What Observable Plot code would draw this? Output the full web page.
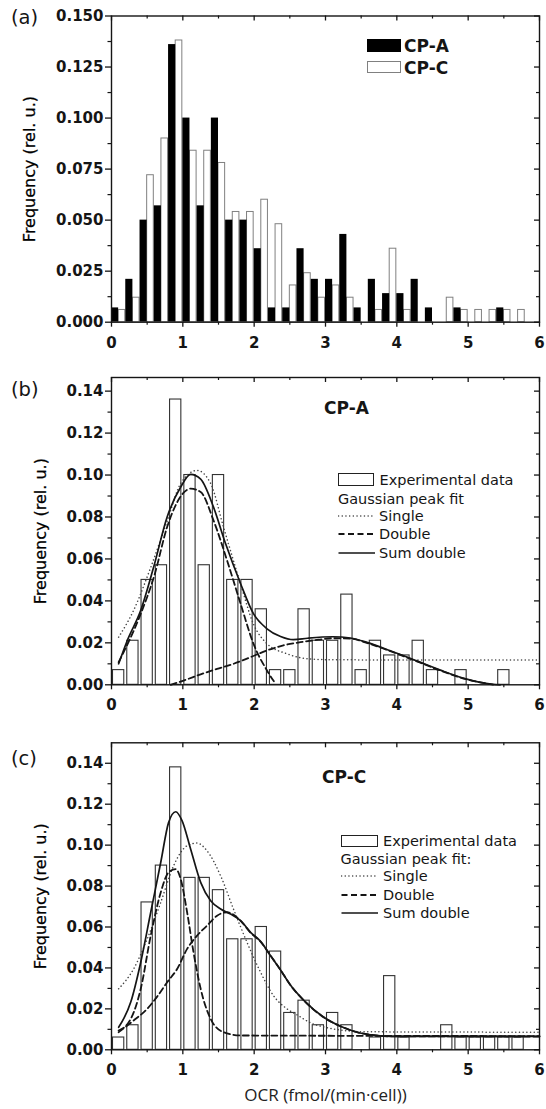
<!DOCTYPE html>
<html><head><meta charset="utf-8">
<script src="https://cdn.jsdelivr.net/npm/d3@7"></script>
<script src="https://cdn.jsdelivr.net/npm/@observablehq/plot@0.6"></script>
<style>
html,body{margin:0;padding:0;background:#fff;}
#wrap{position:relative;width:546px;height:1109px;overflow:hidden;font-family:"DejaVu Sans",sans-serif;color:#151515;}
#wrap svg.pl{position:absolute;left:0;}
.ov{position:absolute;white-space:nowrap;line-height:1;transform:translateY(-50%);}
</style></head><body><div id="wrap"></div>
<script>
// ---------- data ----------
const binStart = [0,0.2,0.4,0.6,0.8,1.0,1.2,1.4,1.6,1.8,2.0,2.2,2.4,2.6,2.8,3.0,3.2,3.4,3.6,3.8,4.0,4.2,4.4,4.6,4.8,5.0,5.2,5.4,5.6];
const binWidth = 0.2;
const freqCPA = [0.007,0.021,0.050,0.057,0.136,0.100,0.057,0.100,0.050,0.050,0.036,0.007,0.007,0.036,0.021,0.021,0.043,0.007,0.021,0.014,0.014,0.021,0.007,0,0.007,0,0,0.007,0];
const freqCPC = [0.006,0.012,0.072,0.090,0.138,0.084,0.084,0.078,0.054,0.054,0.060,0.048,0.018,0.024,0.012,0.018,0.012,0,0.006,0.036,0.006,0,0,0.012,0.006,0.006,0.006,0.006,0.006];

// Gaussian fit curves: [OCR, frequency]
const singleA = [[0.10,0.0227],[0.31,0.0355],[0.55,0.056],[0.78,0.078],[0.97,0.096],[1.20,0.1022],[1.39,0.096],[1.57,0.0752],[1.81,0.048],[1.99,0.029],[2.18,0.0196],[2.46,0.0148],[2.65,0.0129],[2.90,0.0121],[3.20,0.0119],[6.0,0.0118]];
const doubleA1 = [[0.10,0.0108],[0.40,0.033],[0.60,0.052],[0.78,0.0752],[0.92,0.087],[1.11,0.0935],[1.25,0.0919],[1.43,0.0784],[1.62,0.0593],[1.81,0.0386],[1.99,0.0196],[2.18,0.0068],[2.30,0.0005]];
const doubleA2 = [[0.83,0.0],[1.01,0.002],[1.25,0.005],[1.48,0.0076],[1.71,0.010],[1.95,0.0132],[2.18,0.0164],[2.41,0.0188],[2.65,0.0203],[2.90,0.0215],[3.10,0.0222],[3.35,0.0220],[3.58,0.0200],[3.91,0.0160],[4.28,0.0112],[4.61,0.0068],[4.98,0.0026],[5.35,0.0001]];
const sumA = [[0.10,0.010],[0.22,0.021],[0.41,0.0355],[0.59,0.056],[0.78,0.080],[0.97,0.0943],[1.11,0.1003],[1.25,0.098],[1.43,0.0847],[1.60,0.0672],[1.81,0.0482],[1.99,0.0339],[2.18,0.0267],[2.37,0.023],[2.55,0.0215],[2.75,0.0222],[3.10,0.0229],[3.35,0.0223],[3.58,0.0202],[3.91,0.0162],[4.28,0.0114],[4.61,0.0070],[4.98,0.0027],[5.35,0.0002],[5.45,0.0]];

const singleC = [[0.10,0.0298],[0.31,0.0395],[0.50,0.0541],[0.69,0.072],[0.87,0.0899],[1.06,0.0997],[1.20,0.101],[1.34,0.0972],[1.53,0.085],[1.71,0.0688],[1.90,0.0525],[2.09,0.0379],[2.27,0.0265],[2.46,0.020],[2.60,0.0171],[2.80,0.013],[3.00,0.011],[3.30,0.0093],[3.60,0.0088],[6.0,0.0086]];
const doubleC1 = [[0.10,0.0094],[0.27,0.0151],[0.41,0.0298],[0.55,0.0558],[0.69,0.0769],[0.80,0.0867],[0.90,0.0883],[0.97,0.0834],[1.06,0.0672],[1.15,0.0476],[1.25,0.0298],[1.39,0.0151],[1.57,0.0086],[1.81,0.0070],[6.0,0.0067]];
const doubleC2 = [[0.10,0.0086],[0.31,0.0143],[0.50,0.020],[0.64,0.026],[0.78,0.033],[0.92,0.0395],[1.06,0.0493],[1.20,0.0558],[1.34,0.0607],[1.48,0.0655],[1.62,0.0672],[1.81,0.063],[1.95,0.0572],[2.09,0.0528],[2.23,0.046],[2.37,0.039],[2.50,0.032],[2.70,0.024],[2.97,0.016],[3.21,0.0115],[3.44,0.0086],[3.67,0.0072],[3.91,0.0066],[6.0,0.0065]];
const sumC = [[0.10,0.011],[0.27,0.0233],[0.41,0.0428],[0.55,0.0672],[0.69,0.0915],[0.80,0.111],[0.90,0.1163],[0.99,0.1119],[1.11,0.098],[1.25,0.0818],[1.39,0.0728],[1.53,0.0688],[1.67,0.0663],[1.81,0.0631],[1.95,0.0574],[2.09,0.053],[2.23,0.046],[2.37,0.039],[2.50,0.032],[2.70,0.024],[2.97,0.016],[3.21,0.0115],[3.44,0.0086],[3.67,0.0072],[3.91,0.0066],[6.0,0.0065]];

const xMajor = [0,1,2,3,4,5,6];
const xMinor = [0.5,1.5,2.5,3.5,4.5,5.5];
const yMajorA = [0,0.025,0.05,0.075,0.1,0.125,0.15];
const yMinorA = [0.0125,0.0375,0.0625,0.0875,0.1125,0.1375];
const yMajorBC = [0,0.02,0.04,0.06,0.08,0.1,0.12,0.14];
const yMinorBC = [0.01,0.03,0.05,0.07,0.09,0.11,0.13];

const yTitle = "Frequency (rel. u.)";
const xTitle = "OCR (fmol/(min·cell))";

// ---------- drawing ----------
const wrap = document.getElementById("wrap");
const W = 546, ML = 111, MR = 7, INK = "#151515";
const bins = binStart.map((x0, i) => ({x0, a: freqCPA[i], c: freqCPC[i]}));

function panel({top, height, mt, mb, yMax, yMajor, yMinor, yFmt, ylabDx, marks, extra = []}) {
  const fh = height - mt - mb, fw = W - ML - MR;
  const svg = Plot.plot({
    width: W, height, marginLeft: ML, marginRight: MR, marginTop: mt, marginBottom: mb,
    x: {domain: [0, 6]}, y: {domain: [0, yMax]},
    style: {fontFamily: "DejaVu Sans", color: INK, background: "transparent", overflow: "visible"},
    marks: [
      ...marks,
      Plot.frame({stroke: INK, strokeWidth: 1.4}),
      Plot.axisX(xMajor, {tickSize: 5, tickPadding: 10, tickFormat: d3.format("d"), fontSize: 15, fontWeight: "bold", color: INK, label: null, strokeWidth: 1.3}),
      Plot.axisX(xMinor, {tickSize: 3, tickFormat: () => "", color: INK, label: null, strokeWidth: 1.2}),
      Plot.axisY(yMajor, {tickSize: 6, tickPadding: 2, tickFormat: d3.format(yFmt), fontSize: 15, fontWeight: "bold", color: INK, label: null, strokeWidth: 1.3}),
      Plot.axisY(yMinor, {tickSize: 3.5, tickFormat: () => "", color: INK, label: null, strokeWidth: 1.2}),
      Plot.ruleX(xMajor, {insetBottom: fh - 5, stroke: INK, strokeWidth: 1.3}),
      Plot.ruleX(xMinor, {insetBottom: fh - 3, stroke: INK, strokeWidth: 1.2}),
      Plot.ruleY(yMajor, {insetLeft: fw - 5, stroke: INK, strokeWidth: 1.3}),
      Plot.ruleY(yMinor, {insetLeft: fw - 3, stroke: INK, strokeWidth: 1.2}),
      Plot.text([yTitle], {frameAnchor: "left", textAnchor: "middle", lineAnchor: "middle", dx: ylabDx, rotate: -90, fontSize: 16, fill: "#000", stroke: "#000", strokeWidth: 0.25}),
      ...extra
    ]
  });
  svg.classList.add("pl");
  svg.style.top = top + "px";
  wrap.appendChild(svg);
}

const lineStyle = {
  single: {stroke: "#444", strokeWidth: 1.5, strokeDasharray: "0.1,3.6", strokeLinecap: "round"},
  double: {stroke: INK, strokeWidth: 1.8, strokeDasharray: "6,3.5"},
  sum: {stroke: INK, strokeWidth: 1.7}
};
function curve(data, kind) {
  return Plot.line(data, {x: d => d[0], y: d => d[1], curve: "monotone-x", ...lineStyle[kind]});
}
const open = {fill: "white", stroke: "#333", strokeWidth: 1.1, insetLeft: 1.5, insetRight: 1.5};

// (a)
panel({
  top: 0, height: 360, mt: 15.5, mb: 38.3, yMax: 0.150, yMajor: yMajorA, yMinor: yMinorA, yFmt: ".3f", ylabDx: -82,
  marks: [
    Plot.rectY(bins.filter(d => d.c > 0), {x1: d => d.x0 + binWidth / 2, x2: d => d.x0 + binWidth, y: "c", fill: "white", stroke: "#808080", strokeWidth: 1, insetRight: 0.5}),
    Plot.rectY(bins.filter(d => d.a > 0), {x1: d => d.x0, x2: d => d.x0 + binWidth / 2, y: "a", fill: "black"})
  ]
});
// (b)
panel({
  top: 360, height: 362, mt: 17, mb: 37.7, yMax: 0.1465, yMajor: yMajorBC, yMinor: yMinorBC, yFmt: ".2f", ylabDx: -71,
  marks: [
    Plot.rectY(bins.filter(d => d.a > 0), {x1: d => d.x0, x2: d => d.x0 + binWidth, y: "a", ...open}),
    curve(singleA, "single"), curve(doubleA1, "double"), curve(doubleA2, "double"), curve(sumA, "sum")
  ]
});
// (c)
panel({
  top: 722, height: 387, mt: 20.3, mb: 59.7, yMax: 0.150, yMajor: yMajorBC, yMinor: yMinorBC, yFmt: ".2f", ylabDx: -71,
  marks: [
    Plot.rectY(bins.filter(d => d.c > 0), {x1: d => d.x0, x2: d => d.x0 + binWidth, y: "c", ...open}),
    curve(singleC, "single"), curve(doubleC1, "double"), curve(doubleC2, "double"), curve(sumC, "sum")
  ],
  extra: [Plot.text([xTitle], {frameAnchor: "bottom", textAnchor: "middle", dy: 51, fontSize: 17, fontFamily: "Open Sans", fill: "#222"})]
});

// ---------- overlays: panel letters, titles, legends ----------
function ov(text, left, cy, css = "") {
  const d = document.createElement("div");
  d.className = "ov";
  d.textContent = text;
  d.style.cssText += `left:${left}px;top:${cy}px;` + css;
  wrap.appendChild(d);
}
function box(left, top, w, h, css) {
  const d = document.createElement("div");
  d.style.cssText = `position:absolute;left:${left}px;top:${top}px;width:${w}px;height:${h}px;box-sizing:border-box;` + css;
  wrap.appendChild(d);
}
function sample(left, cy, w, kind) {
  const s = lineStyle[kind];
  const ns = "http://www.w3.org/2000/svg";
  const svg = document.createElementNS(ns, "svg");
  svg.setAttribute("width", w); svg.setAttribute("height", 6);
  svg.style.cssText = `position:absolute;left:${left}px;top:${cy - 3}px;`;
  const l = document.createElementNS(ns, "line");
  l.setAttribute("x1", 0.5); l.setAttribute("x2", w); l.setAttribute("y1", 3); l.setAttribute("y2", 3);
  l.setAttribute("stroke", s.stroke); l.setAttribute("stroke-width", s.strokeWidth);
  if (s.strokeDasharray) l.setAttribute("stroke-dasharray", s.strokeDasharray);
  if (s.strokeLinecap) l.setAttribute("stroke-linecap", s.strokeLinecap);
  svg.appendChild(l);
  wrap.appendChild(svg);
}
const letter = "font-size:19.5px;";
const bold = "font-size:17px;font-weight:bold;";
const leg = "font-size:14.5px;";

ov("(a)", 11, 18, letter);
ov("(b)", 11, 390, letter);
ov("(c)", 11, 759, letter);

// legend (a)
box(366.5, 39.3, 34, 12.4, "background:#000;");
ov("CP-A", 404, 46, bold);
box(366.5, 61, 34, 12, "background:#fff;border:1px solid #808080;");
ov("CP-C", 404, 67.5, bold);

// panel (b)
ov("CP-A", 324, 408, bold);
box(337.7, 473.3, 36.6, 12.7, "background:#fff;border:1.3px solid #222;");
ov("Experimental data", 379.5, 480, leg);
ov("Gaussian peak fit", 338, 498.5, leg);
sample(338, 516, 37, "single"); ov("Single", 379, 516, leg);
sample(338, 534.3, 37, "double"); ov("Double", 379, 534.3, leg);
sample(338, 552.7, 37, "sum"); ov("Sum double", 379, 552.7, leg);

// panel (c)
ov("CP-C", 322, 777, bold);
box(340.5, 834.5, 37.3, 12.2, "background:#fff;border:1.3px solid #222;");
ov("Experimental data", 383, 840.5, leg);
ov("Gaussian peak fit:", 340.5, 859.3, leg);
sample(340.5, 876.3, 37, "single"); ov("Single", 383, 876.3, leg);
sample(340.5, 894.5, 37, "double"); ov("Double", 383, 894.5, leg);
sample(340.5, 913, 37, "sum"); ov("Sum double", 383, 913, leg);
</script>
</body></html>
